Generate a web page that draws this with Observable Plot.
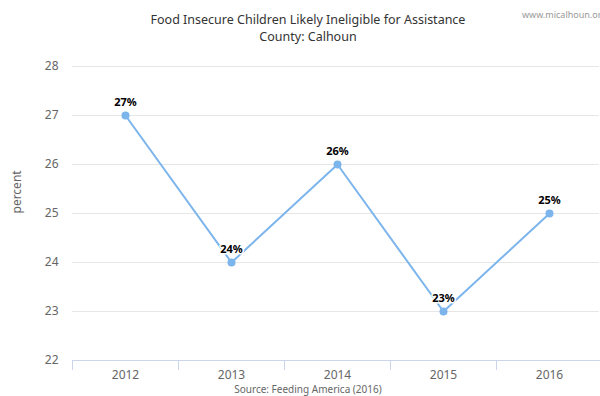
<!DOCTYPE html>
<html><head><meta charset="utf-8">
<script src="https://cdn.jsdelivr.net/npm/d3@7"></script>
<script src="https://cdn.jsdelivr.net/npm/@observablehq/plot@0.6"></script>
<style>
html,body{margin:0;padding:0;background:#fff;overflow:hidden;width:600px;height:396px;}
#wrap{position:relative;width:600px;height:396px;font-family:"Noto Sans",sans-serif;}
.t{position:absolute;left:0;width:616px;text-align:center;color:#333;font-size:12.5px;}
#wm{position:absolute;left:522px;top:8px;font-size:9px;color:#999;white-space:nowrap;}
#src{position:absolute;left:0;width:616px;text-align:center;top:382px;font-size:10px;color:#666;}
#chart{position:absolute;left:0;top:0;}
</style></head><body>
<div id="wrap">
<div id="chart"></div>
<div class="t" style="top:11px">Food Insecure Children Likely Ineligible for Assistance</div>
<div class="t" style="top:28px">County: Calhoun</div>
<div id="wm">www.micalhoun.org</div>
<div id="src">Source: Feeding America (2016)</div>
</div>
<script>
const years = ["2012","2013","2014","2015","2016"];
const percent = [27, 24, 26, 23, 25];
const yTicks = [22, 23, 24, 25, 26, 27, 28];

const data = years.map((y, i) => ({i, year: y, value: percent[i]}));
const bounds = d3.range(-0.5, years.length, 1);

const chart = Plot.plot({
  width: 600,
  height: 396,
  marginTop: 66,
  marginBottom: 36,
  marginLeft: 72,
  marginRight: 0,
  style: {fontFamily: "Noto Sans, sans-serif", background: "transparent"},
  x: {type: "linear", domain: [-0.5, years.length - 0.5], range: [72, 602]},
  y: {domain: [22, 28], range: [360, 66]},
  marks: [
    Plot.gridY(yTicks, {stroke: "#e6e6e6", strokeOpacity: 1, x1: -0.5, x2: 4.47}),
    Plot.axisY(yTicks, {tickSize: 0, tickPadding: 14, fontSize: 12, fill: "#666", label: null}),
    Plot.text(["percent"], {frameAnchor: "left", dx: -55, rotate: -90, fontSize: 12, fill: "#666"}),
    Plot.ruleY([22], {stroke: "#ccd6eb"}),
    Plot.axisX(bounds, {tickSize: 10, stroke: "#ccd6eb", tickFormat: () => "", label: null}),
    Plot.axisX(d3.range(years.length), {tickSize: 0, tickPadding: 10, fontSize: 12, fill: "#666", tickFormat: i => years[i], label: null}),
    Plot.line(data, {x: "i", y: "value", stroke: "#7cb5ec", strokeWidth: 2}),
    Plot.dot(data, {x: "i", y: "value", fill: "#7cb5ec", r: 4}),
    Plot.text(data, {x: "i", y: "value", text: d => d.value + "%", dy: -13, fontSize: 11, fontWeight: "bold", fill: "#000", stroke: "#fff", strokeWidth: 3})
  ]
});
document.getElementById("chart").appendChild(chart);
</script>
</body></html>
